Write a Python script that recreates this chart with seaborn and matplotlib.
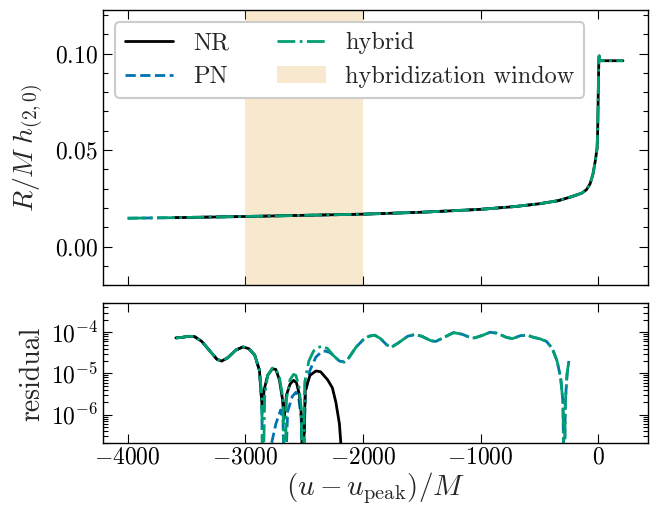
import numpy as np
import matplotlib
matplotlib.use('Agg')
import matplotlib.pyplot as plt
import seaborn as sns
from matplotlib.ticker import MultipleLocator, LogLocator

# strain (top panel)
t_top = [-4000, -3600, -3000, -2500, -2000, -1500, -1000, -700, -500, -340, -230, -140,
         -100, -70, -45, -25, -10, -5, 0, 5, 8, 12, 20, 100, 210]
h_top = [0.0147, 0.0150, 0.0156, 0.0162, 0.0168, 0.0178, 0.0193, 0.0208, 0.0222, 0.0238,
         0.0258, 0.0277, 0.0295, 0.0325, 0.0375, 0.0445, 0.0510, 0.0600, 0.0800, 0.0975,
         0.0988, 0.0970, 0.0963, 0.0963, 0.0963]
NR_START = -3600
PN_END = -140
window = (-3000, -2000)

# residuals (bottom panel)
t_res_early = [-3590, -3540, -3480, -3430, -3370, -3300, -3240, -3200, -3150, -3080,
               -3020, -2970, -2920, -2880]
r_res_early = [7.3e-5, 7.5e-5, 8.0e-5, 7.8e-5, 6.0e-5, 3.5e-5, 2.2e-5, 2.0e-5, 2.4e-5, 3.7e-5,
               4.4e-5, 4.0e-5, 2.8e-5, 1.2e-5]

t_hyb_late = [-2860, -2850, -2835, -2810, -2770, -2740, -2710, -2680, -2665, -2650, -2620,
              -2590, -2570, -2545, -2525, -2512, -2495, -2460, -2420, -2380, -2340, -2300,
              -2250, -2200, -2160, -2120, -2060, -2000, -1950, -1900, -1850, -1800, -1760,
              -1700, -1620, -1560, -1500, -1420, -1380, -1300, -1230, -1160, -1090, -1050,
              -980, -920, -860, -780, -730, -660, -600, -550, -500, -440, -390, -350, -320,
              -300, -290, -280, -265, -250]
r_hyb_late = [3e-6, 1e-8, 3e-6, 9e-6, 1.35e-5, 1.3e-5, 8e-6, 2.5e-6, 1e-8, 2.5e-6, 7e-6,
              9.5e-6, 9e-6, 5e-6, 1.5e-6, 1e-8, 6e-6, 2e-5, 3.5e-5, 4.3e-5, 4.6e-5, 4.0e-5,
              2.7e-5, 2.0e-5, 1.9e-5, 2.4e-5, 4.3e-5, 6.5e-5, 8.0e-5, 8.5e-5, 7.0e-5, 5.0e-5,
              4.3e-5, 5.5e-5, 8.0e-5, 8.8e-5, 8.0e-5, 6.2e-5, 6.0e-5, 7.8e-5, 9.8e-5, 9.0e-5,
              7.5e-5, 7.3e-5, 8.5e-5, 1.0e-4, 9.5e-5, 7.5e-5, 7.0e-5, 8.3e-5, 8.5e-5, 7.5e-5,
              7.0e-5, 6.0e-5, 4.0e-5, 2.0e-5, 8e-6, 2e-6, 1e-8, 2e-6, 1e-5, 2e-5]

t_nr_late = [-2870, -2855, -2840, -2810, -2770, -2740, -2710, -2685, -2670, -2650, -2620,
             -2590, -2565, -2540, -2520, -2515, -2490, -2450, -2400, -2360, -2300, -2260,
             -2230, -2200, -2180]
r_nr_late = [5e-6, 1.3e-6, 4e-6, 9e-6, 1.3e-5, 1.25e-5, 7e-6, 2.5e-6, 8e-7, 3e-6, 5.5e-6,
             6.8e-6, 6e-6, 3e-6, 8e-7, 1e-8, 4e-6, 9e-6, 1.15e-5, 1.1e-5, 7e-6, 4.5e-6,
             2e-6, 6e-7, 1e-7]

t_pn_mid = [-2860, -2850, -2800, -2740, -2700, -2680, -2665, -2640, -2600, -2570, -2545,
            -2525, -2512, -2490, -2450, -2400, -2350, -2320, -2280, -2250]
r_pn_mid = [2e-6, 1e-8, 1e-7, 6e-7, 1.3e-6, 8e-7, 1e-8, 1.2e-6, 2.8e-6, 3.5e-6, 2.5e-6,
            8e-7, 1e-8, 3e-6, 1.2e-5, 2.5e-5, 3.4e-5, 3.5e-5, 3.2e-5, 2.7e-5]

c_blue, c_orange, c_green = sns.color_palette('colorblind')[:3]

sns.set_style('ticks')
plt.rcParams.update({
    'font.family': 'serif',
    'font.serif': ['cmr10'],
    'mathtext.fontset': 'cm',
    'axes.formatter.use_mathtext': True,
    'font.size': 17,
    'xtick.direction': 'in', 'ytick.direction': 'in',
    'xtick.top': True, 'ytick.right': True,
    'xtick.major.size': 6.5, 'ytick.major.size': 6.5,
    'xtick.minor.size': 3.5, 'ytick.minor.size': 3.5,
    'xtick.major.width': 0.8, 'ytick.major.width': 0.8,
    'xtick.minor.width': 0.8, 'ytick.minor.width': 0.8,
    'axes.linewidth': 1.0,
    'axes.edgecolor': 'black',
    'xtick.color': 'black', 'ytick.color': 'black',
})

fig, (ax1, ax2) = plt.subplots(2, 1, sharex=True, figsize=(6.51, 5.08), dpi=100,
                               gridspec_kw=dict(height_ratios=[275, 140], hspace=0.088))
fig.subplots_adjust(left=0.158, right=0.995, top=0.980, bottom=0.127)

t_top = np.array(t_top)
h_top = np.array(h_top)
nr = t_top >= NR_START
pn = t_top <= PN_END

lw = 2
sns.lineplot(x=t_top[pn], y=h_top[pn], ax=ax1, color=c_blue, ls='--', lw=lw, zorder=2, estimator=None)
sns.lineplot(x=t_top[nr], y=h_top[nr], ax=ax1, color='black', ls='-', lw=lw, zorder=2.1, estimator=None)
sns.lineplot(x=t_top, y=h_top, ax=ax1, color=c_green, ls='-.', lw=lw, zorder=2.2, estimator=None)
ax1.axvspan(*window, color=c_orange, alpha=0.2, lw=0, zorder=1)

ax1.set_ylim(-0.02, 0.1225)
ax1.yaxis.set_major_locator(MultipleLocator(0.05))
ax1.yaxis.set_minor_locator(MultipleLocator(0.01))
ax1.set_ylabel(r'$R/M\;h_{(2,0)}$', fontsize=20)

handles = [
    plt.Line2D([], [], color='black', ls='-', lw=lw),
    plt.Line2D([], [], color=c_blue, ls='--', lw=lw),
    plt.Line2D([], [], color=c_green, ls='-.', lw=lw),
    plt.Rectangle((0, 0), 1, 1, color=c_orange, alpha=0.2, lw=0),
]
leg = ax1.legend(handles, ['NR', 'PN', 'hybrid', 'hybridization window'], ncol=2,
                 loc='upper left', fontsize=17.5, fancybox=True, framealpha=1.0)
leg.get_frame().set_edgecolor('0.8')
leg.get_frame().set_linewidth(1.5)

t_hyb = t_res_early + t_hyb_late
r_hyb = r_res_early + r_hyb_late
t_nr = t_res_early + t_nr_late
r_nr = r_res_early + r_nr_late
t_pn = t_res_early + t_pn_mid + [t for t in t_hyb_late if t > -2250]
r_pn = r_res_early + r_pn_mid + [r for t, r in zip(t_hyb_late, r_hyb_late) if t > -2250]

sns.lineplot(x=t_pn, y=r_pn, ax=ax2, color=c_blue, ls='--', lw=lw, zorder=2, estimator=None)
sns.lineplot(x=t_nr, y=r_nr, ax=ax2, color='black', ls='-', lw=lw, zorder=2.1, estimator=None)
sns.lineplot(x=t_hyb, y=r_hyb, ax=ax2, color=c_green, ls='-.', lw=lw, zorder=2.2, estimator=None)
ax2.set_yscale('log')
ax2.set_ylim(2e-7, 5e-4)
ax2.yaxis.set_major_locator(LogLocator(base=10, numticks=10))
ax2.yaxis.set_minor_locator(LogLocator(base=10, subs=np.arange(2, 10), numticks=10))
ax2.set_ylabel('residual', fontsize=20)
ax2.set_xlabel(r'$(u-u_{\rm peak})/M$', fontsize=21, labelpad=1)
ax2.xaxis.set_major_locator(MultipleLocator(1000))

for ax in (ax1, ax2):
    ax.tick_params(which='both', direction='in', top=True, right=True)
ax1.tick_params(labelbottom=False)
ax2.tick_params(axis='x', pad=2)

fig.align_ylabels([ax1, ax2])
fig.savefig('out.png', dpi=100)
